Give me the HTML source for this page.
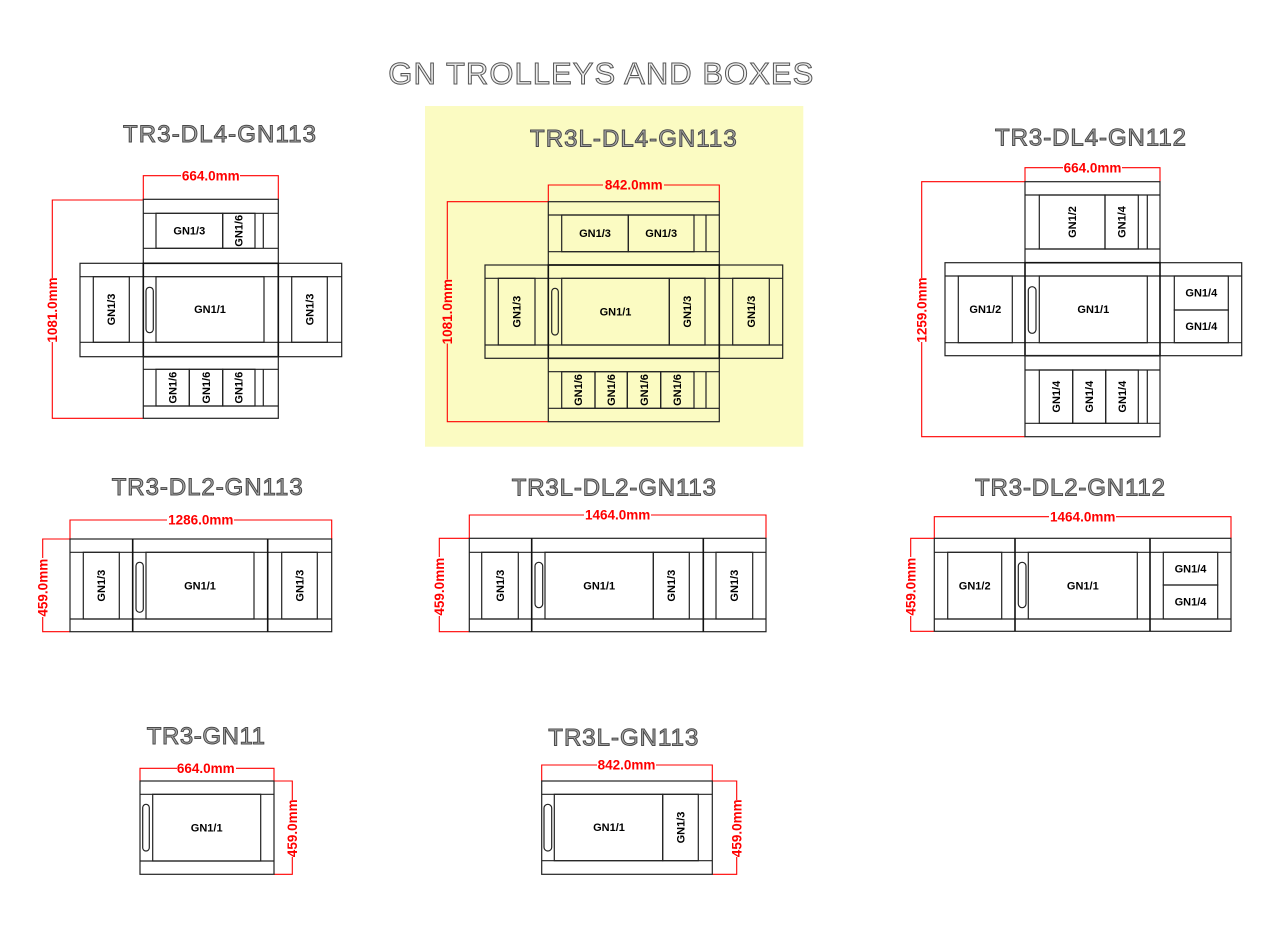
<!DOCTYPE html>
<html><head><meta charset="utf-8"><style>
html,body{margin:0;padding:0;background:#fff;}
svg{display:block;}
.l{stroke:#222;stroke-width:1.2;fill:none}
.b{stroke:#111;stroke-width:1.6;fill:none}
.t{font:bold 11px "Liberation Sans",Arial,sans-serif;fill:#000;text-anchor:middle}
.d{font:bold 13.5px "Liberation Sans",Arial,sans-serif;fill:#f00;text-anchor:middle}
.r{stroke:#f00;stroke-width:1.1;fill:none}
.h{font:24px "Liberation Sans",Arial,sans-serif;fill:#aaa;stroke:#4a4a4a;stroke-width:1}
.m{font:31px "Liberation Sans",Arial,sans-serif;fill:#eee;stroke:#555;stroke-width:1}
</style></head><body>
<svg width="1280" height="943" viewBox="0 0 1280 943" xmlns="http://www.w3.org/2000/svg">
<rect width="1280" height="943" fill="#fff"/>
<text class="m" x="388.3" y="84" textLength="425">GN TROLLEYS AND BOXES</text>

<!-- D1 -->
<text class="h" x="123" y="142" textLength="193">TR3-DL4-GN113</text>
<path class="r" d="M143.3 199.3V175.7H278.3V199.3"/>
<rect fill="#fff" x="181" y="170" width="59" height="11"/>
<text class="d" x="210.8" y="180.4">664.0mm</text>
<path class="r" d="M143.3 200H52.3V418.3H143.3"/>
<rect fill="#fff" x="47" y="278" width="11" height="64"/>
<text class="d" transform="translate(52.3,310) rotate(-90)" y="4.6">1081.0mm</text>
<rect class="l" x="143.3" y="199.3" width="135" height="64"/>
<path class="l" d="M143.3 213.3H278.3M143.3 248.3H278.3M263.3 213.3V248.3"/>
<rect class="l" x="156" y="213.3" width="66.7" height="35"/>
<rect class="l" x="222.7" y="213.3" width="32.3" height="35"/>
<text class="t" x="189.3" y="234.5">GN1/3</text>
<text class="t" transform="translate(238.8,230.8) rotate(-90)" y="3.8">GN1/6</text>
<rect class="l" x="80" y="263.3" width="261.7" height="93.4"/>
<path class="l" d="M80 276.7H341.7M80 342.3H341.7"/>
<rect class="l" x="93.3" y="276.7" width="36" height="65.6"/>
<rect class="l" x="156" y="276.7" width="108" height="65.6"/>
<rect class="l" x="291.7" y="276.7" width="35.6" height="65.6"/>
<rect class="l" x="146" y="287.3" width="7.3" height="45.4" rx="3.6"/>
<rect class="b" x="143.3" y="263.3" width="135" height="93.4"/>
<text class="t" transform="translate(111.3,309.5) rotate(-90)" y="3.8">GN1/3</text>
<text class="t" x="210" y="313.2">GN1/1</text>
<text class="t" transform="translate(309.5,309.5) rotate(-90)" y="3.8">GN1/3</text>
<rect class="l" x="143.3" y="356.7" width="135" height="61.6"/>
<path class="l" d="M143.3 369.3H278.3M143.3 406H278.3M263.3 369.3V406"/>
<rect class="l" x="156" y="369.3" width="33.3" height="36.7"/>
<rect class="l" x="189.3" y="369.3" width="33.4" height="36.7"/>
<rect class="l" x="222.7" y="369.3" width="32.3" height="36.7"/>
<text class="t" transform="translate(172.7,387.7) rotate(-90)" y="3.8">GN1/6</text>
<text class="t" transform="translate(206,387.7) rotate(-90)" y="3.8">GN1/6</text>
<text class="t" transform="translate(238.8,387.7) rotate(-90)" y="3.8">GN1/6</text>

<!-- D2 -->
<rect x="425" y="106" width="378.3" height="340.7" fill="#fbfbc2"/>
<text class="h" x="530" y="146.5" textLength="206.7">TR3L-DL4-GN113</text>
<path class="r" d="M548.3 201.7V185H719.3V201.7"/>
<rect fill="#fbfbc2" x="603" y="179.5" width="61" height="11"/>
<text class="d" x="633.8" y="189.6">842.0mm</text>
<path class="r" d="M548.3 201.7H447.3V421.7H548.3"/>
<rect fill="#fbfbc2" x="442" y="279.5" width="11" height="64"/>
<text class="d" transform="translate(447.3,311.7) rotate(-90)" y="4.6">1081.0mm</text>
<rect class="l" x="548.3" y="201.7" width="171" height="63.3"/>
<path class="l" d="M548.3 215H719.3M548.3 251.7H719.3M706 215V251.7"/>
<rect class="l" x="561.7" y="215" width="66.6" height="36.7"/>
<rect class="l" x="628.3" y="215" width="65.7" height="36.7"/>
<text class="t" x="595" y="237.1">GN1/3</text>
<text class="t" x="661.2" y="237.1">GN1/3</text>
<rect class="l" x="485" y="265" width="297.7" height="93.3"/>
<path class="l" d="M485 278.3H782.7M485 345H782.7"/>
<rect class="l" x="498.3" y="278.3" width="36.7" height="66.7"/>
<rect class="l" x="561.7" y="278.3" width="107.6" height="66.7"/>
<rect class="l" x="669.3" y="278.3" width="35.7" height="66.7"/>
<rect class="l" x="732.7" y="278.3" width="36.6" height="66.7"/>
<rect class="l" x="551.7" y="288.3" width="6.6" height="46.7" rx="3.3"/>
<rect class="b" x="548.3" y="265" width="171" height="93.3"/>
<text class="t" transform="translate(516.7,311.7) rotate(-90)" y="3.8">GN1/3</text>
<text class="t" x="615.5" y="315.4">GN1/1</text>
<text class="t" transform="translate(687.2,311.7) rotate(-90)" y="3.8">GN1/3</text>
<text class="t" transform="translate(751,311.7) rotate(-90)" y="3.8">GN1/3</text>
<rect class="l" x="548.3" y="358.3" width="171" height="63.4"/>
<path class="l" d="M548.3 371.7H719.3M548.3 408.3H719.3M706 371.7V408.3"/>
<rect class="l" x="561.7" y="371.7" width="33.3" height="36.6"/>
<rect class="l" x="595" y="371.7" width="32.3" height="36.6"/>
<rect class="l" x="627.3" y="371.7" width="33.4" height="36.6"/>
<rect class="l" x="660.7" y="371.7" width="33.3" height="36.6"/>
<text class="t" transform="translate(578.3,390) rotate(-90)" y="3.8">GN1/6</text>
<text class="t" transform="translate(611.2,390) rotate(-90)" y="3.8">GN1/6</text>
<text class="t" transform="translate(644,390) rotate(-90)" y="3.8">GN1/6</text>
<text class="t" transform="translate(677.3,390) rotate(-90)" y="3.8">GN1/6</text>

<!-- D3 -->
<text class="h" x="995" y="145.5" textLength="191">TR3-DL4-GN112</text>
<path class="r" d="M1025 181.7V167.7H1160V181.7"/>
<rect fill="#fff" x="1063" y="162" width="59" height="11"/>
<text class="d" x="1092.5" y="172.3">664.0mm</text>
<path class="r" d="M1025 181.7H921.7V436.7H1025"/>
<rect fill="#fff" x="916" y="278" width="11" height="64"/>
<text class="d" transform="translate(921.7,310) rotate(-90)" y="4.6">1259.0mm</text>
<rect class="l" x="1025" y="181.7" width="135" height="81"/>
<path class="l" d="M1025 195H1160M1025 249H1160M1147.3 195V249"/>
<rect class="l" x="1039.3" y="195" width="65.7" height="54"/>
<rect class="l" x="1105" y="195" width="33.3" height="54"/>
<text class="t" transform="translate(1072.2,222) rotate(-90)" y="3.8">GN1/2</text>
<text class="t" transform="translate(1121.7,222) rotate(-90)" y="3.8">GN1/4</text>
<rect class="l" x="945" y="262.7" width="296.7" height="93"/>
<path class="l" d="M945 276H1241.7M945 342.7H1241.7"/>
<rect class="l" x="958.3" y="276" width="54" height="66.7"/>
<rect class="l" x="1039.3" y="276" width="108" height="66.7"/>
<rect class="l" x="1174.3" y="276" width="54" height="34"/>
<rect class="l" x="1174.3" y="310" width="54" height="32.7"/>
<rect class="l" x="1028.3" y="286.7" width="7.7" height="46.6" rx="3.8"/>
<rect class="b" x="1025" y="262.7" width="135" height="93"/>
<text class="t" x="985.3" y="313">GN1/2</text>
<text class="t" x="1093.3" y="313">GN1/1</text>
<text class="t" x="1201.3" y="296.7">GN1/4</text>
<text class="t" x="1201.3" y="330">GN1/4</text>
<rect class="l" x="1025" y="355.7" width="135" height="81"/>
<path class="l" d="M1025 370H1160M1025 423.3H1160M1147.3 370V423.3"/>
<rect class="l" x="1039.3" y="370" width="33.4" height="53.3"/>
<rect class="l" x="1072.7" y="370" width="33" height="53.3"/>
<rect class="l" x="1105.7" y="370" width="32.6" height="53.3"/>
<text class="t" transform="translate(1056,396.7) rotate(-90)" y="3.8">GN1/4</text>
<text class="t" transform="translate(1089.2,396.7) rotate(-90)" y="3.8">GN1/4</text>
<text class="t" transform="translate(1122,396.7) rotate(-90)" y="3.8">GN1/4</text>

<!-- D4 -->
<text class="h" x="111.7" y="495" textLength="191">TR3-DL2-GN113</text>
<path class="r" d="M70 539V520H331.7V539"/>
<rect fill="#fff" x="167" y="514.5" width="67" height="11"/>
<text class="d" x="200.8" y="524.6">1286.0mm</text>
<path class="r" d="M70 539H42.7V631.7H70"/>
<rect fill="#fff" x="37" y="558" width="11" height="59"/>
<text class="d" transform="translate(42.7,587.7) rotate(-90)" y="4.6">459.0mm</text>
<rect class="l" x="70" y="539" width="261.7" height="92.7"/>
<path class="l" d="M70 552.3H331.7M70 619H331.7"/>
<path class="b" d="M132.7 539V631.7M267.7 539V631.7"/>
<rect class="l" x="83.3" y="552.3" width="36" height="66.7"/>
<rect class="l" x="146" y="552.3" width="108" height="66.7"/>
<rect class="l" x="281.7" y="552.3" width="35.6" height="66.7"/>
<rect class="l" x="136" y="562.3" width="7.3" height="50" rx="3.6"/>
<text class="t" transform="translate(101.3,585.7) rotate(-90)" y="3.8">GN1/3</text>
<text class="t" x="200" y="589.4">GN1/1</text>
<text class="t" transform="translate(299.5,585.7) rotate(-90)" y="3.8">GN1/3</text>

<!-- D5 -->
<text class="h" x="511.7" y="495.7" textLength="204.3">TR3L-DL2-GN113</text>
<path class="r" d="M469.3 538.3V515H766V538.3"/>
<rect fill="#fff" x="584" y="509.5" width="67" height="11"/>
<text class="d" x="617.6" y="519.6">1464.0mm</text>
<path class="r" d="M469.3 538.3H439.3V631.7H469.3"/>
<rect fill="#fff" x="434" y="557" width="11" height="59"/>
<text class="d" transform="translate(439.3,586.7) rotate(-90)" y="4.6">459.0mm</text>
<rect class="l" x="469.3" y="538.3" width="296.7" height="93.4"/>
<path class="l" d="M469.3 552.3H766M469.3 619H766"/>
<path class="b" d="M531.7 538.3V631.7M703.3 538.3V631.7"/>
<rect class="l" x="481.7" y="552.3" width="36.6" height="66.7"/>
<rect class="l" x="545" y="552.3" width="108.3" height="66.7"/>
<rect class="l" x="653.3" y="552.3" width="36" height="66.7"/>
<rect class="l" x="716" y="552.3" width="36.7" height="66.7"/>
<rect class="l" x="535" y="562.3" width="7.7" height="45.4" rx="3.8"/>
<text class="t" transform="translate(500,585.7) rotate(-90)" y="3.8">GN1/3</text>
<text class="t" x="599.2" y="589.4">GN1/1</text>
<text class="t" transform="translate(671.3,585.7) rotate(-90)" y="3.8">GN1/3</text>
<text class="t" transform="translate(734.3,585.7) rotate(-90)" y="3.8">GN1/3</text>

<!-- D6 -->
<text class="h" x="975" y="495.5" textLength="190">TR3-DL2-GN112</text>
<path class="r" d="M934.3 538.3V516.7H1231V538.3"/>
<rect fill="#fff" x="1049" y="511" width="67" height="11"/>
<text class="d" x="1082.7" y="521.3">1464.0mm</text>
<path class="r" d="M934.3 538.3H910.7V631.3H934.3"/>
<rect fill="#fff" x="905" y="557" width="11" height="59"/>
<text class="d" transform="translate(910.7,586.7) rotate(-90)" y="4.6">459.0mm</text>
<rect class="l" x="934.3" y="538.3" width="296.7" height="93"/>
<path class="l" d="M934.3 552.3H1231M934.3 619H1231"/>
<path class="b" d="M1015 538.3V631.3M1150 538.3V631.3"/>
<rect class="l" x="947.7" y="552.3" width="54" height="66.7"/>
<rect class="l" x="1028.3" y="552.3" width="109" height="66.7"/>
<rect class="l" x="1163.3" y="552.3" width="54.4" height="32.7"/>
<rect class="l" x="1163.3" y="585" width="54.4" height="34"/>
<rect class="l" x="1018.3" y="562.3" width="7.7" height="45.4" rx="3.8"/>
<text class="t" x="974.7" y="589.4">GN1/2</text>
<text class="t" x="1082.8" y="589.4">GN1/1</text>
<text class="t" x="1190.5" y="572.4">GN1/4</text>
<text class="t" x="1190.5" y="605.7">GN1/4</text>

<!-- D7 -->
<text class="h" x="146.7" y="744" textLength="118.3">TR3-GN11</text>
<path class="r" d="M140 781V768.3H274V781"/>
<rect fill="#fff" x="177" y="763" width="59" height="11"/>
<text class="d" x="205.8" y="772.9">664.0mm</text>
<path class="r" d="M274 781H292.3V874.3H274"/>
<rect fill="#fff" x="287" y="800" width="11" height="57"/>
<text class="d" transform="translate(292.3,828.3) rotate(-90)" y="4.6">459.0mm</text>
<rect class="l" x="140" y="781" width="134" height="93.3"/>
<path class="l" d="M140 794.3H274M140 861H274"/>
<rect class="l" x="152.7" y="794.3" width="108" height="66.7"/>
<rect class="l" x="142.7" y="804.3" width="6.6" height="46.7" rx="3.3"/>
<text class="t" x="206.7" y="831.4">GN1/1</text>

<!-- D8 -->
<text class="h" x="548.3" y="745.5" textLength="150">TR3L-GN113</text>
<path class="r" d="M541.7 781V765H712.3V781"/>
<rect fill="#fff" x="597" y="759.5" width="59" height="11"/>
<text class="d" x="626.5" y="769.6">842.0mm</text>
<path class="r" d="M712.3 781H736.7V874.3H712.3"/>
<rect fill="#fff" x="731" y="800" width="11" height="57"/>
<text class="d" transform="translate(736.7,828.3) rotate(-90)" y="4.6">459.0mm</text>
<rect class="l" x="541.7" y="781" width="170.6" height="93.3"/>
<path class="l" d="M541.7 794.3H712.3M541.7 860.7H712.3"/>
<rect class="l" x="554.3" y="794.3" width="108.4" height="66.4"/>
<rect class="l" x="662.7" y="794.3" width="35.6" height="66.4"/>
<rect class="l" x="544" y="804.3" width="7.7" height="46.7" rx="3.8"/>
<text class="t" x="609" y="831.2">GN1/1</text>
<text class="t" transform="translate(680.5,827.5) rotate(-90)" y="3.8">GN1/3</text>
</svg>
</body></html>
